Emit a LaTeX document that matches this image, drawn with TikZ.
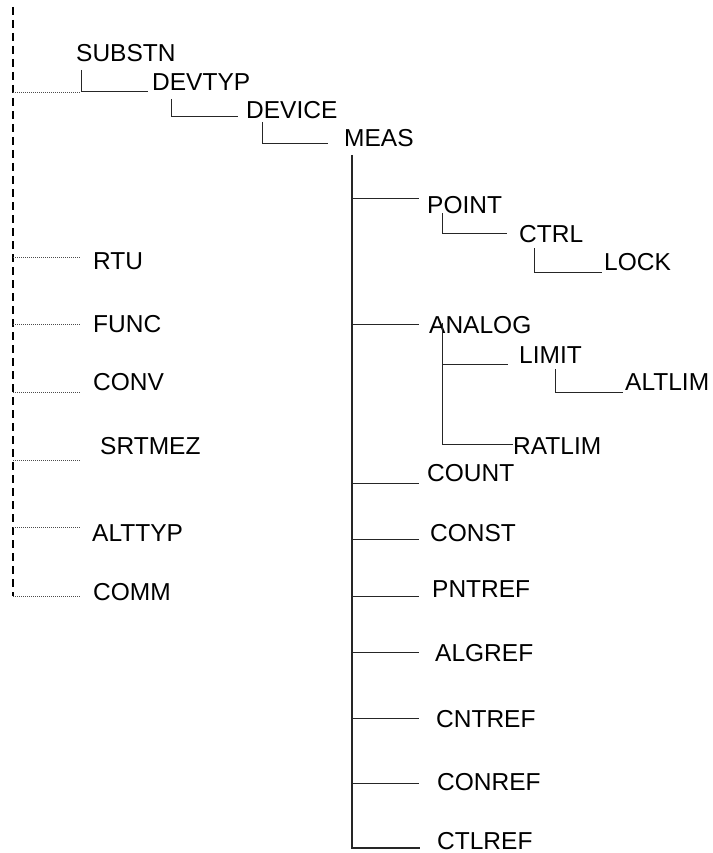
\documentclass[tikz,border=0pt]{standalone}
\usepackage{fontspec}
\setmainfont{Liberation Sans}
\usetikzlibrary{calc}

\tikzset{
    lbl/.style={inner sep=0pt,anchor=base west,font=\fontsize{24.5}{28}\selectfont},
    tree/.style={line width=1pt,black!85},
    trunkline/.style={line width=1.6pt,black!85},
    spineline/.style={line width=1.5pt,dash pattern=on 8pt off 5pt},
    tick/.style={line width=0.8pt,black!70,dash pattern=on 1pt off 1pt}
}

\begin{document}
\begin{tikzpicture}[x=1pt,y=-1pt]
    \useasboundingbox (0,0) rectangle (712,853);

    \draw
        node[lbl] (substn) at (76,62) {SUBSTN}
        node[lbl] (devtyp) at (152,91) {DEVTYP}
        node[lbl] (device) at (246,119) {DEVICE}
        node[lbl] (meas) at (344,147) {MEAS}

        node[lbl] (point) at (427,213) {POINT}
        node[lbl] (ctrl) at (519,242) {CTRL}
        node[lbl] (lock) at (604,270) {LOCK}

        node[lbl] (analog) at (429,333) {ANALOG}
        node[lbl] (limit) at (519,363) {LIMIT}
        node[lbl] (altlim) at (625,390) {ALTLIM}
        node[lbl] (ratlim) at (513,454) {RATLIM}

        node[lbl] (count) at (427,481) {COUNT}
        node[lbl] (const) at (430,541) {CONST}
        node[lbl] (pntref) at (432,597) {PNTREF}
        node[lbl] (algref) at (435,661) {ALGREF}
        node[lbl] (cntref) at (436,727) {CNTREF}
        node[lbl] (conref) at (437,790) {CONREF}
        node[lbl] (ctlref) at (437,849) {CTLREF}

        node[lbl] (rtu) at (93,269) {RTU}
        node[lbl] (func) at (93,332) {FUNC}
        node[lbl] (conv) at (93,390) {CONV}
        node[lbl] (srtmez) at (100,454) {SRTMEZ}
        node[lbl] (alttyp) at (92,541) {ALTTYP}
        node[lbl] (comm) at (93,600) {COMM}
    ;

    % dashed spine on the left
    \coordinate (spinetop) at (13,7);
    \draw[spineline] (spinetop) -- ($(spinetop |- comm.base west)+(0,-4)$);
    \draw[tick] ($(spinetop |- devtyp.base west)+(0,1)$) -- ++(68,0);
    \foreach \n/\dy in {rtu/-12, func/-8, conv/2, srtmez/6, alttyp/-14, comm/-4}
        \draw[tick] ($(spinetop |- \n.base west)+(0,\dy)$) -- ++(67,0);

    % elbows down the top levels
    \draw[tree] ($(substn.base west)+(5,8)$) |- ($(devtyp.base west)+(-4,1)$);
    \draw[tree] ($(devtyp.base west)+(19,8)$) |- ($(device.base west)+(-8,-2)$);
    \draw[tree] ($(device.base west)+(16,3)$) |- ($(meas.base west)+(-16,-3)$);

    % MEAS trunk and its branches
    \coordinate (trunk) at ($(meas.base west)+(8,8)$);
    \draw[trunkline] (trunk) |- ($(ctlref.base west)+(-17,-1)$);
    \foreach \n/\dy in {point/-15, analog/-9, count/2, const/-2, pntref/-1, algref/-9, cntref/-9, conref/-7}
        \draw[tree] ($(trunk |- \n.base west)+(0,\dy)$) -- ++(67,0);

    % POINT subtree
    \draw[tree] ($(point.base west)+(15,0)$) |- ($(ctrl.base west)+(-12,-9)$);
    \draw[tree] ($(ctrl.base west)+(15,6)$) |- ($(lock.base west)+(-2,2)$);

    % ANALOG subtree
    \coordinate (analogstem) at ($(analog.base west)+(13,-10)$);
    \draw[tree] (analogstem) |- ($(ratlim.base west)+(0,-10)$);
    \draw[tree] ($(analogstem |- limit.base west)+(0,1)$) -- ($(limit.base west)+(-11,1)$);
    \draw[tree] ($(limit.base west)+(36,6)$) |- ($(altlim.base west)+(-2,2)$);
\end{tikzpicture}
\end{document}
